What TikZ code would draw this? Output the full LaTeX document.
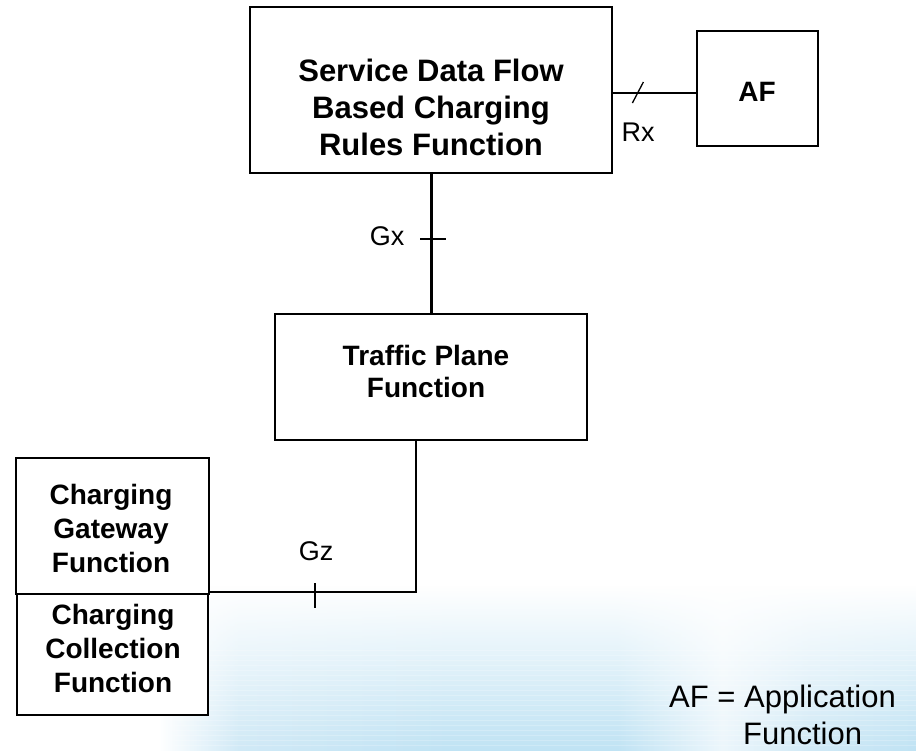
\documentclass[tikz,border=0pt]{standalone}
\usepackage{fontspec}
\setmainfont{Liberation Sans}
\usetikzlibrary{fadings,calc}

\definecolor{wash}{RGB}{208,233,246}
\definecolor{washdeep}{RGB}{192,227,244}
% TikZ fits the path to the middle 25bp--75bp of a shading
\pgfdeclarehorizontalshading{washh}{100bp}{color(0bp)=(white); color(28bp)=(white); color(33bp)=(wash); color(46bp)=(washdeep); color(56.5bp)=(washdeep); color(63bp)=(wash!40!white); color(68.5bp)=(wash); color(75bp)=(washdeep); color(100bp)=(washdeep)}
\tikzfading[name=fadeup, top color=transparent!100, bottom color=transparent!0]

\begin{document}
\begin{tikzpicture}[x=1pt,y=-1pt,
  box/.style={draw, fill=white, line width=2pt, rectangle, inner sep=0pt},
  btext/.style={font=\fontsize{28}{34}\selectfont\bfseries, align=center, inner sep=0pt},
  ltext/.style={font=\fontsize{27}{32}\selectfont, inner sep=0pt},
  ftext/.style={font=\fontsize{31}{37}\selectfont, align=left, inner sep=0pt},
  thinline/.style={line width=1.3pt},
  ]
\useasboundingbox[fill=white] (0,0) rectangle (916,750);

% pale blue wash along the bottom, with faint horizontal streaks
\shade[shading=washh, path fading=fadeup] (110,585) rectangle (916,750);
\foreach \yy in {650,655,...,748}
  \draw[white, opacity=0.22, line width=1pt] (170,\yy) -- (916,\yy);

% boxes
\node[box, minimum width=362pt, minimum height=166pt] (sdf) at (431,90) {};
\node[box, minimum width=121pt, minimum height=115pt] (af) at (757.5,88.5) {};
\node[box, minimum width=312pt, minimum height=126pt] (tpf) at (431,377) {};
\node[box, minimum width=193pt, minimum height=136pt] (cgf) at (112.5,526) {};
\node[box, minimum width=191pt, minimum height=121pt] (ccf) at (112.5,654.5) {};

% box captions (base anchor = baseline of the last line)
\node[btext, font=\fontsize{31}{37}\selectfont\bfseries, anchor=base] (sdft) at (431,155)
  {Service Data Flow\\Based Charging\\Rules Function};
\node[btext] (aft) at (757,92) {AF};
\node[btext, font=\fontsize{28}{32}\selectfont\bfseries, anchor=base] (tpft) at (426,397)
  {Traffic Plane\\Function};
\node[btext, anchor=base] (cgft) at (111,572) {Charging\\Gateway\\Function};
\node[btext, anchor=base] (ccft) at (113,692) {Charging\\Collection\\Function};

% Rx reference point
\coordinate (rxe) at ([yshift=-4.5pt]af.west);
\coordinate (rxs) at (sdf.east |- rxe);
\draw[thinline] (rxs) -- (rxe);
\coordinate (rxm) at ($(rxs)!0.294!(rxe)$);
\draw[thinline] ([xshift=-5pt,yshift=-10pt]rxm) -- ([xshift=6pt,yshift=11pt]rxm);
\node[ltext] (rx) at (638,132) {Rx};

% Gx reference point
\draw[line width=3pt] (sdf.south) -- (tpf.north);
\coordinate (gxm) at (sdf.south |- 0,239);
\draw[thinline] ([xshift=-11pt]gxm) -- ([xshift=15pt]gxm);
\node[ltext] (gx) at (387,236) {Gx};

% Gz reference point
\coordinate (gzt) at ([xshift=-15pt]tpf.south);
\coordinate (gzb) at ([yshift=3pt]cgf.south east);
\draw[thinline] (gzt) |- (gzb);
\coordinate (gzm) at (315,0 |- gzb);
\draw[thinline] ([yshift=9pt]gzm) -- ([yshift=-16pt]gzm);
\node[ltext] (gz) at (316,551) {Gz};

% legend
\node[ftext, anchor=base west] (note) at (669,744) {AF = Application\\\hspace*{74pt}Function};
\end{tikzpicture}
\end{document}
